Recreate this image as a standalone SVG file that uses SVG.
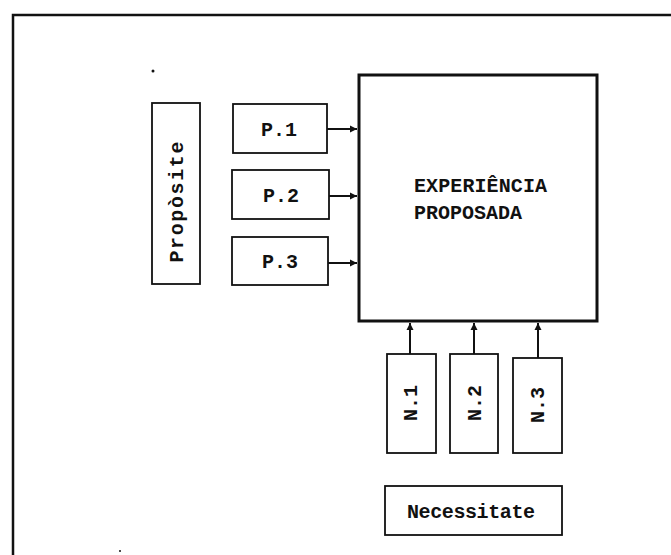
<svg xmlns="http://www.w3.org/2000/svg" width="671" height="555" viewBox="0 0 671 555">
<style>
.t{font-family:"Liberation Mono","DejaVu Sans Mono",monospace;font-size:20px;font-weight:bold;fill:#111}
.box{fill:none;stroke:#111;stroke-width:1.8}
.big{fill:none;stroke:#111;stroke-width:3}
.c{stroke:#111;stroke-width:2;fill:none}
</style>
<defs>
<marker id="ah" markerWidth="8" markerHeight="8" refX="7" refY="4" orient="auto" markerUnits="userSpaceOnUse">
<path d="M0,0.5 L7,4 L0,7.5 Z" fill="#111"/>
</marker>
</defs>
<rect width="671" height="555" fill="#fff"/>
<path d="M671,15 L13,15 L13,555" fill="none" stroke="#111" stroke-width="2.5"/>
<circle cx="153" cy="71" r="1.5" fill="#111"/>
<circle cx="120" cy="551" r="1" fill="#111"/>
<g id="experiencia">
<rect class="big" x="359" y="75" width="238" height="246"/>
<text class="t" x="414" y="192" textLength="133">EXPERIÊNCIA</text>
<text class="t" x="414" y="219" textLength="108">PROPOSADA</text>
</g>
<g id="proposito">
<rect class="box" x="152" y="103" width="48" height="181"/>
<text class="t" transform="translate(183,202) rotate(-90)" text-anchor="middle" textLength="121">Propòsite</text>
</g>
<g id="p1">
<rect class="box" x="233" y="104" width="94" height="49"/>
<text class="t" x="279" y="136" text-anchor="middle">P.1</text>
</g>
<g id="p2">
<rect class="box" x="232" y="170" width="97" height="49"/>
<text class="t" x="281" y="202" text-anchor="middle">P.2</text>
</g>
<g id="p3">
<rect class="box" x="232" y="237" width="96" height="48"/>
<text class="t" x="280" y="268" text-anchor="middle">P.3</text>
</g>
<g id="n1">
<rect class="box" x="387" y="354" width="49" height="99"/>
<text class="t" transform="translate(417,403) rotate(-90)" text-anchor="middle">N.1</text>
</g>
<g id="n2">
<rect class="box" x="450" y="354" width="48" height="99"/>
<text class="t" transform="translate(481,403) rotate(-90)" text-anchor="middle">N.2</text>
</g>
<g id="n3">
<rect class="box" x="513" y="358" width="49" height="95"/>
<text class="t" transform="translate(544,405) rotate(-90)" text-anchor="middle">N.3</text>
</g>
<g id="necessitate">
<rect class="box" x="385" y="486" width="177" height="49"/>
<text class="t" x="471" y="518" text-anchor="middle" textLength="128">Necessitate</text>
</g>
<g id="connectors">
<line class="c" x1="327" y1="129" x2="357" y2="129" marker-end="url(#ah)"/>
<line class="c" x1="329" y1="196" x2="357" y2="196" marker-end="url(#ah)"/>
<line class="c" x1="328" y1="263" x2="357" y2="263" marker-end="url(#ah)"/>
<line class="c" x1="410" y1="354" x2="410" y2="323" marker-end="url(#ah)"/>
<line class="c" x1="474" y1="354" x2="474" y2="323" marker-end="url(#ah)"/>
<line class="c" x1="538" y1="358" x2="538" y2="323" marker-end="url(#ah)"/>
</g>
</svg>
